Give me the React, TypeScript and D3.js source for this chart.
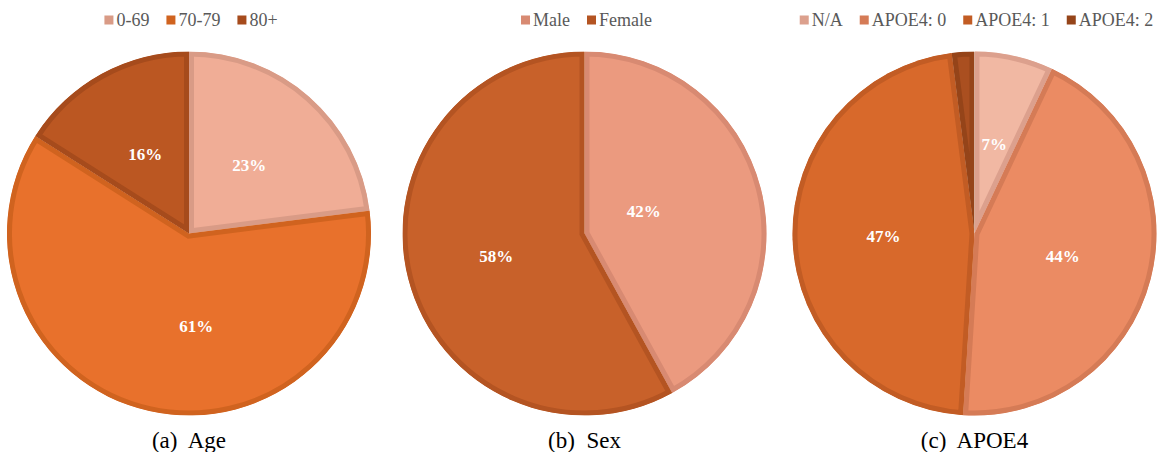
import * as d3 from "d3";
import React, { useRef, useEffect } from "react";

const ageLabels = ["0-69", "70-79", "80+"];
const ageValues = [23, 61, 16];
const sexLabels = ["Male", "Female"];
const sexValues = [42, 58];
const apoeLabels = ["N/A", "APOE4: 0", "APOE4: 1", "APOE4: 2"];
const apoeValues = [7, 44, 47, 2];
const captions = ["(a)  Age", "(b)  Sex", "(c)  APOE4"];

const ageFill = ["#f0ad96", "#e8712c", "#bb5722"];
const ageEdge = ["#d99b86", "#d0631f", "#a64b1c"];
const sexFill = ["#eb9a7f", "#c8612a"];
const sexEdge = ["#d88a72", "#b45422"];
const apoeFill = ["#f1b8a3", "#eb8b63", "#d8692b", "#aa4f20"];
const apoeEdge = ["#dca08d", "#d57b56", "#c25c24", "#954419"];

// hand-placed labels in the original, shift from the usual centroid
const labelShift: Record<string, [number, number]> = {
	"70-79": [27, 4],
	Male: [-29, 0],
};
// slices this small get no percentage label
const minLabelValue = 5;

const W = 1165;
const H = 452;
const centers = [189, 584.5, 974.5];
const cy = 233.5;
const radius = 182;
const border = 5;
const serif = "'Liberation Serif', 'Times New Roman', serif";

const App = () => {
	const ref = useRef(null);

	useEffect(() => {
		if (!ref.current) return;
		const svg = d3.select(ref.current);
		svg.selectAll("*").remove();

		const charts = [
			{ labels: ageLabels, values: ageValues, fill: ageFill, edge: ageEdge },
			{ labels: sexLabels, values: sexValues, fill: sexFill, edge: sexEdge },
			{ labels: apoeLabels, values: apoeValues, fill: apoeFill, edge: apoeEdge },
		];

		const pie = d3.pie<number>().sort(null).value((d) => d);
		const arc = d3.arc<any>().innerRadius(0).outerRadius(radius);
		const labelArc = d3
			.arc<any>()
			.innerRadius(radius * 0.5)
			.outerRadius(radius * 0.5);
		const defs = svg.append("defs");

		charts.forEach((chart, ci) => {
			const cx = centers[ci];
			const g = svg.append("g").attr("transform", `translate(${cx},${cy})`);
			const arcs = pie(chart.values);

			arcs.forEach((a, i) => {
				const id = `clip-${ci}-${i}`;
				// clip is in the user space of the path (already translated)
				defs
					.append("clipPath")
					.attr("id", id)
					.append("path")
					.attr("d", arc(a));
				// stroke twice the width, clipped to the slice -> border sits inside
				g.append("path")
					.attr("d", arc(a))
					.attr("fill", chart.fill[i])
					.attr("stroke", chart.edge[i])
					.attr("stroke-width", border * 2)
					.attr("stroke-linejoin", "miter")
					.attr("clip-path", `url(#${id})`);
			});

			arcs
				.filter((a) => a.value >= minLabelValue)
				.forEach((a) => {
					const [lx, ly] = labelArc.centroid(a);
					const shift = labelShift[chart.labels[a.index]] || [0, 0];
					g.append("text")
						.attr("x", lx + shift[0])
						.attr("y", ly + shift[1])
						.attr("dy", "0.34em")
						.attr("text-anchor", "middle")
						.attr("font-family", serif)
						.attr("font-weight", "bold")
						.attr("font-size", 17)
						.attr("fill", "#ffffff")
						.text(Math.round(a.value) + "%");
				});

			// legend, centered over the pie
			const legend = svg.append("g");
			let x = 0;
			chart.labels.forEach((label, i) => {
				legend
					.append("rect")
					.attr("x", x)
					.attr("y", 15.5)
					.attr("width", 9)
					.attr("height", 9)
					.attr("fill", chart.edge[i]);
				const t = legend
					.append("text")
					.attr("x", x + 12)
					.attr("y", 26)
					.attr("font-family", serif)
					.attr("font-size", 18)
					.attr("fill", "#595959")
					.text(label);
				const w = (t.node() as SVGTextElement).getComputedTextLength();
				x += 12 + w + 17;
			});
			const legendWidth = x - 17;
			legend.attr("transform", `translate(${cx + 2 - legendWidth / 2},0)`);

			svg.append("text")
				.attr("x", cx)
				.attr("y", 448)
				.attr("text-anchor", "middle")
				.attr("font-family", serif)
				.attr("font-size", 23)
				.attr("fill", "#000000")
				.style("white-space", "pre")
				.text(captions[ci]);
		});
	}, []);

	return (
		<svg
			ref={ref}
			width={W}
			height={H}
			style={{ position: "absolute", left: 0, top: 0, background: "white" }}
		/>
	);
};

export default App;
